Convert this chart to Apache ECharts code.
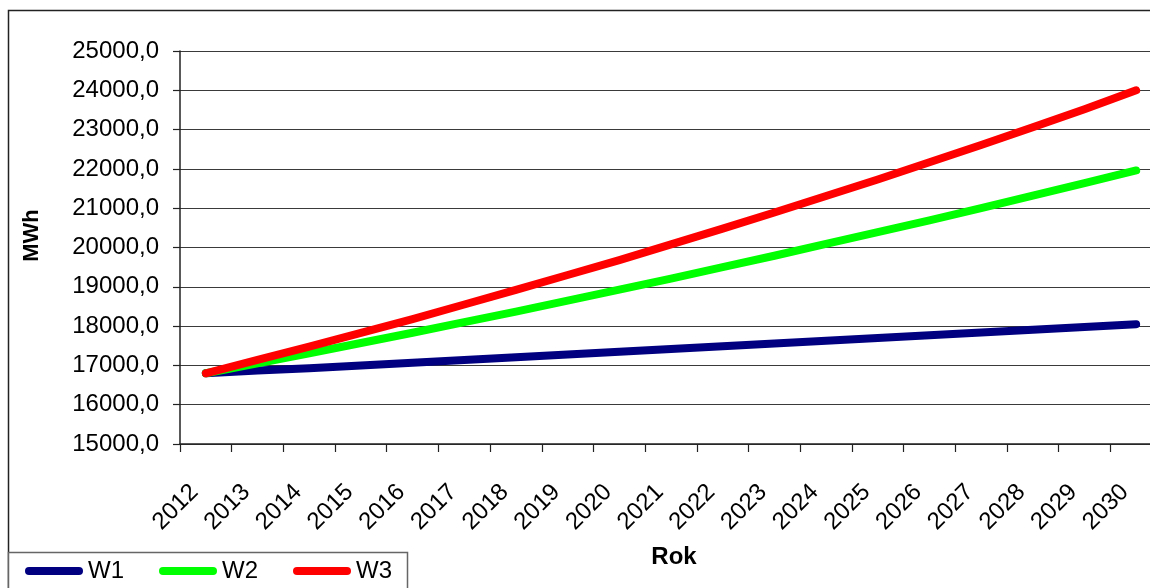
<!DOCTYPE html>
<html>
<head>
<meta charset="utf-8">
<title>MWh – W1, W2, W3</title>
<script src="https://cdn.jsdelivr.net/npm/echarts@6/dist/echarts.min.js"></script>
<style>
  html, body { margin: 0; padding: 0; background: #fff; overflow: hidden; }
  #chart { width: 1180px; height: 588px; }
</style>
</head>
<body>
<div id="chart"></div>
<script>
// Years on the category axis
const years = ['2012', '2013', '2014', '2015', '2016', '2017', '2018', '2019', '2020',
  '2021', '2022', '2023', '2024', '2025', '2026', '2027', '2028', '2029', '2030'];

// Energy demand per scenario, MWh
const w1 = [16800, 16870, 16930, 17000, 17070, 17140, 17210, 17280, 17350, 17420,
  17490, 17560, 17630, 17700, 17770, 17840, 17910, 17980, 18050];
const w2 = [16800, 17050, 17310, 17570, 17830, 18100, 18370, 18650, 18930, 19210,
  19500, 19790, 20090, 20390, 20690, 21000, 21320, 21640, 21960];
const w3 = [16800, 17140, 17480, 17830, 18180, 18550, 18920, 19300, 19680, 20080,
  20480, 20890, 21310, 21730, 22170, 22610, 23060, 23520, 24000];

const seriesNames = ['W1', 'W2', 'W3'];
const seriesColors = ['#000080', '#00ff00', '#ff0000'];

// Value axis range and step
const yMin = 15000;
const yMax = 25000;
const yStep = 1000;

const FONT = "'Liberation Sans', Arial, sans-serif";

const chart = echarts.init(document.getElementById('chart'), null, { renderer: 'canvas' });

const makeSeries = (name, data, color) => ({
  name: name,
  type: 'line',
  data: data,
  symbol: 'none',
  smooth: false,
  animation: false,
  lineStyle: { color: color, width: 8, cap: 'round', join: 'round' },
  itemStyle: { color: color }
});

chart.setOption({
  animation: false,
  backgroundColor: '#ffffff',
  textStyle: { fontFamily: FONT },
  grid: { left: 180, right: 18, top: 51, bottom: 144, containLabel: false },
  graphic: [
    // outer chart frame
    { type: 'rect', z: -10, silent: true,
      shape: { x: 8.5, y: 10.5, width: 1400, height: 800 },
      style: { fill: '#ffffff', stroke: '#222222', lineWidth: 1.5 } },
    // legend box
    { type: 'rect', z: 0, silent: true,
      shape: { x: 8.5, y: 552.5, width: 399, height: 80 },
      style: { fill: '#ffffff', stroke: '#666666', lineWidth: 1.5 } }
  ],
  legend: {
    data: seriesNames,
    left: 20,
    top: 554,
    orient: 'horizontal',
    itemWidth: 50,
    itemHeight: 10,
    itemGap: 35,
    z: 5,
    lineStyle: { width: 8, cap: 'round' },
    itemStyle: { borderWidth: 0 },
    textStyle: { fontFamily: FONT, fontSize: 24, color: '#000', padding: [0, 0, 0, 4] }
  },
  xAxis: {
    type: 'category',
    data: years,
    boundaryGap: true,
    name: 'Rok',
    nameLocation: 'middle',
    nameGap: 101,
    nameTextStyle: { fontFamily: FONT, fontSize: 24, fontWeight: 'bold', color: '#000',
      verticalAlign: 'top', padding: [0, 0, 0, 6] },
    axisLine: { show: true, lineStyle: { color: '#222', width: 1.5 } },
    axisTick: { show: true, inside: false, length: 8, alignWithLabel: false,
      lineStyle: { color: '#222', width: 1.2 } },
    axisLabel: { interval: 0, rotate: 45, margin: 33, fontFamily: FONT, fontSize: 24,
      color: '#000', padding: [0, 16, 11, 0] },
    splitLine: { show: false }
  },
  yAxis: {
    type: 'value',
    min: yMin,
    max: yMax,
    interval: yStep,
    name: 'MWh',
    nameLocation: 'middle',
    nameGap: 137,
    nameTextStyle: { fontFamily: FONT, fontSize: 22, fontWeight: 'bold', color: '#000',
      padding: [0, 0, 0, 24] },
    axisLine: { show: true, lineStyle: { color: '#222', width: 1.5 } },
    axisTick: { show: true, inside: false, length: 7, lineStyle: { color: '#222', width: 1.2 } },
    axisLabel: {
      margin: 21,
      fontFamily: FONT,
      fontSize: 24,
      color: '#000',
      formatter: (v) => v.toFixed(1).replace('.', ',')
    },
    splitLine: { show: true, lineStyle: { color: '#3a3a3a', width: 1 } }
  },
  series: [
    makeSeries(seriesNames[0], w1, seriesColors[0]),
    makeSeries(seriesNames[1], w2, seriesColors[1]),
    makeSeries(seriesNames[2], w3, seriesColors[2])
  ]
});
</script>
</body>
</html>
